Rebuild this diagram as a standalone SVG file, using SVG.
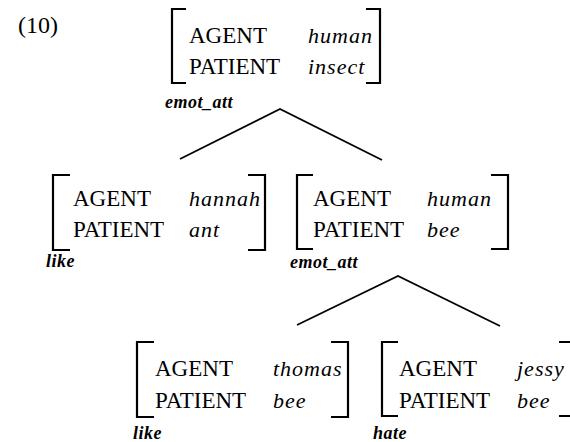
<svg xmlns="http://www.w3.org/2000/svg" width="570" height="442" viewBox="0 0 570 442">
<style>
.k{font-family:"Liberation Serif",serif;font-size:23px;fill:#000}
.n{font-family:"Liberation Serif",serif;font-size:24px;fill:#000}
.v{font-family:"Liberation Serif",serif;font-style:italic;font-size:22px;fill:#000;letter-spacing:1px}
.l{font-family:"Liberation Serif",serif;font-style:italic;font-weight:bold;font-size:18px;fill:#000;letter-spacing:0.5px}
.b{fill:none;stroke:#000;stroke-width:2.2}
.e{fill:none;stroke:#000;stroke-width:1.8}
</style>
<rect width="570" height="442" fill="#fff"/>
<text class="n" x="18" y="33">(10)</text>
<g id="n_top">
<path class="b" d="M186,9 H172 V83 H186 M366,9 H380 V83 H366"/>
<text class="k" x="189" y="43">AGENT</text>
<text class="k" x="189" y="74">PATIENT</text>
<text class="v" x="308" y="43">human</text>
<text class="v" x="308" y="74">insect</text>
<text class="l" x="165" y="108">emot_att</text>
</g>
<g id="n_like1">
<path class="b" d="M70,175 H53 V250 H70 M248,175 H265 V250 H248"/>
<text class="k" x="73" y="206">AGENT</text>
<text class="k" x="73" y="237">PATIENT</text>
<text class="v" x="189" y="206">hannah</text>
<text class="v" x="189" y="237">ant</text>
<text class="l" x="46" y="267">like</text>
</g>
<g id="n_mid">
<path class="b" d="M313,175 H297 V249 H313 M491,175 H508 V249 H491"/>
<text class="k" x="313" y="206">AGENT</text>
<text class="k" x="313" y="237">PATIENT</text>
<text class="v" x="427" y="206">human</text>
<text class="v" x="427" y="237">bee</text>
<text class="l" x="290" y="268">emot_att</text>
</g>
<g id="n_like2">
<path class="b" d="M154,342 H137 V417 H154 M331,342 H348 V417 H331"/>
<text class="k" x="155" y="376">AGENT</text>
<text class="k" x="155" y="408">PATIENT</text>
<text class="v" x="273" y="376">thomas</text>
<text class="v" x="273" y="408">bee</text>
<text class="l" x="133" y="439">like</text>
</g>
<g id="n_hate">
<path class="b" d="M398,342 H382 V416 H398 M559,342 H574 V416 H559"/>
<text class="k" x="399" y="376">AGENT</text>
<text class="k" x="399" y="408">PATIENT</text>
<text class="v" x="517" y="376">jessy</text>
<text class="v" x="517" y="408">bee</text>
<text class="l" x="373" y="439">hate</text>
</g>
<g id="connectors">
<path class="e" d="M180,159 L280,109 L382,160"/>
<path class="e" d="M297,325 L398,276 L500,326"/>
</g>
</svg>
